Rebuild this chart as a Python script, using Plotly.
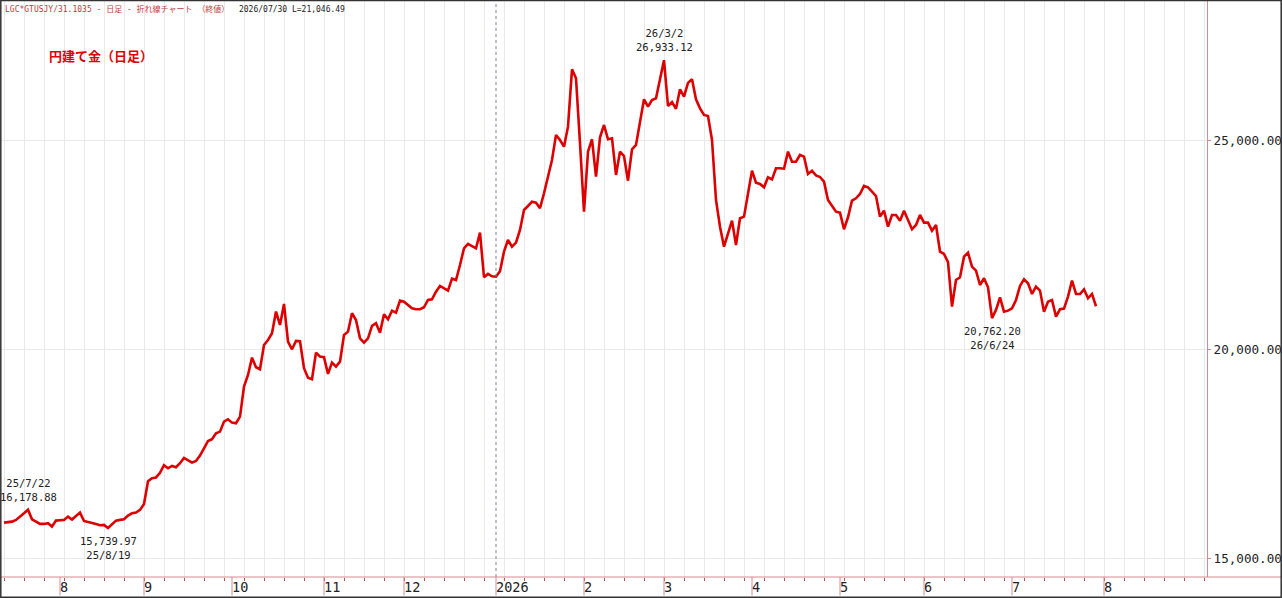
import pandas as pd
import plotly.graph_objects as go

# first data day and the last weekday that still gets a month tick
start_day = "2025-07-14"
axis_end_day = "2026-08-31"

# daily close (yen per gram), one value per weekday from start_day
close = [
    15870, 15879, 15894, 15935, 16006, 16094, 16178.88, 15950, 15894, 15839,
    15839, 15855, 15775, 15918, 15926, 15935, 16014, 15943, 16030, 16110,
    15910, 15886, 15879, 15839, 15807, 15815, 15739.97, 15839, 15918, 15935,
    15950, 16038, 16094, 16110, 16174, 16317, 16860, 16930, 16950, 17060,
    17242, 17170, 17226, 17194, 17290, 17417, 17370, 17306, 17346, 17473,
    17649, 17824, 17864, 18008, 18047, 18286, 18343, 18262, 18247, 18406,
    19123, 19403, 19817, 19586, 19539, 20120, 20240, 20400, 20918, 20599,
    21101, 20200, 20017, 20216, 20210, 19563, 19336, 19300, 19937, 19841,
    19826, 19427, 19697, 19601, 19721, 20360, 20439, 20878, 20718, 20280,
    20176, 20280, 20575, 20639, 20415, 20854, 20735, 20941, 20893, 21180,
    21156, 21077, 20998, 20974, 20974, 21022, 21197, 21213, 21395, 21532,
    21476, 21420, 21706, 21675, 22034, 22433, 22536, 22488, 22433, 22807,
    21740, 21819, 21762, 21755, 21886, 22352, 22632, 22472, 22568, 22871,
    23350, 23445, 23548, 23524, 23390, 23749, 24146, 24545, 25144, 25024,
    24864, 25342, 26715, 26500, 24944, 23309, 24745, 25041, 24146, 25088,
    25383, 25041, 25064, 24187, 24745, 24641, 24050, 24801, 24904, 25502,
    25997, 25820, 25981, 26021, 26459, 26933.12, 25837, 25930, 25770, 26237,
    26060, 26390, 26476, 25997, 25782, 25622, 25598, 25024, 23589, 22950,
    22472, 22792, 23094, 22512, 23151, 23190, 23787, 24290, 24003, 23971,
    23892, 24131, 24083, 24347, 24347, 24337, 24745, 24505, 24505, 24665,
    24625, 24211, 24286, 24175, 24138, 24027, 23589, 23445, 23309, 23285,
    22888, 23175, 23572, 23629, 23732, 23924, 23892, 23787, 23684, 23190,
    23333, 22950, 23230, 23230, 23094, 23333, 23110, 22888, 22991, 23230,
    23046, 23046, 22855, 22991, 22352, 22297, 22100, 21040, 21675, 21739,
    22233, 22328, 21994, 21898, 21555, 21716, 21500, 20762.20, 20958, 21261,
    20917, 20941, 20998, 21197, 21532, 21692, 21596, 21340, 21515, 21420,
    20917, 21156, 21197, 20798, 20974, 20990, 21277, 21660, 21340, 21340,
    21452, 21237, 21340, 21046.49,
]

y_ticks = [15000, 20000, 25000]

# highs get the date on top, lows get the value on top
note_days = ["2025-07-22", "2025-08-19", "2026-03-02", "2026-06-24"]
note_is_high = [True, False, True, False]

header_red = "LGC*GTUSJY/31.1035 - 日足 - 折れ線チャート （終値）"
header_dark = "2026/07/30 L=21,046.49"
title = "円建て金（日足）"

# weekday calendar -> one x slot per weekday
days = pd.bdate_range(start_day, axis_end_day)
xs = list(range(len(close)))

# month ticks on the first weekday of every month
month_idx = [i for i in range(1, len(days)) if days[i].month != days[i - 1].month]
month_txt = [str(days[i].year) if days[i].month == 1 else str(days[i].month) for i in month_idx]
year_idx = [i for i in month_idx if days[i].month == 1]

axis_pink = "#d68a8f"
mono = "DejaVu Sans Mono, Noto Sans CJK JP"

fig = go.Figure()
fig.add_trace(go.Scatter(
    x=xs, y=close, mode="lines",
    line=dict(color="#dc0000", width=2.6),
    hoverinfo="skip",
))

# price labels at the marked highs and lows
for d, high in zip(note_days, note_is_high):
    i = days.get_loc(pd.Timestamp(d))
    ts = days[i]
    date_txt = f"{ts.year % 100}/{ts.month}/{ts.day}"
    val_txt = f"{close[i]:,.2f}"
    fig.add_annotation(
        x=i, y=close[i], showarrow=False,
        text=(date_txt + "<br>" + val_txt) if high else (val_txt + "<br>" + date_txt),
        yanchor="bottom" if high else "top",
        yshift=5 if high else -5,
        font=dict(family=mono, size=10.5, color="#222222"),
    )

fig.add_annotation(
    xref="paper", yref="paper", x=0.001, y=0.998, xanchor="left", yanchor="top",
    showarrow=False,
    text=f'<span style="color:#c23a3a">{header_red}</span>  {header_dark}',
    font=dict(family=mono, size=8, color="#222222"),
)
fig.add_annotation(
    xref="paper", yref="paper", x=0.037, y=0.905, xanchor="left", yanchor="middle",
    showarrow=False, text=f"<b>{title}</b>",
    font=dict(family="Noto Sans CJK JP", size=13, color="#e00000"),
)

# dotted line at the start of the year
for i in year_idx:
    fig.add_shape(type="line", x0=i, x1=i, y0=0, y1=1, xref="x", yref="paper",
                  line=dict(color="#8080a0", width=1, dash="dot"))

# long month tick lines hanging below the axis
for i in month_idx:
    fig.add_shape(type="line", x0=i, x1=i, y0=0, y1=-0.032, xref="x", yref="paper",
                  line=dict(color=axis_pink, width=1))

# bottom axis line runs the full width
fig.add_shape(type="line", x0=-0.01, x1=1.07, y0=0, y1=0, xref="paper", yref="paper",
              line=dict(color=axis_pink, width=1.2))

# screenshot frame
fig.add_shape(type="rect", xref="paper", yref="paper",
              x0=-1.2 / 1205, x1=1279.2 / 1205, y0=-20.2 / 576, y1=1 + 0.5 / 576,
              line=dict(color="#333333", width=1.5))

fig.update_xaxes(
    range=[-0.5, -0.5 + 1205 / 4],
    tickvals=month_idx, ticktext=month_txt,
    ticks="", showgrid=False, showline=False, zeroline=False,
    ticklabelposition="outside right", automargin=False,
    tickfont=dict(family=mono, size=13.5, color="#222222"),
    minor=dict(tick0=0, dtick=5, ticks="outside", ticklen=3, tickcolor="#b85050",
               showgrid=True, gridcolor="#e9e9e9", gridwidth=1),
)
fig.update_yaxes(
    side="right", range=[14569, 28349],
    tickvals=y_ticks, tickformat=",.2f",
    ticks="outside", ticklen=3, tickcolor=axis_pink,
    showline=True, linecolor=axis_pink, linewidth=1.2,
    showgrid=True, gridcolor="#e9e9e9", zeroline=False, automargin=False,
    tickfont=dict(family=mono, size=12.6, color="#222222"),
)
fig.update_layout(
    width=1282, height=598,
    margin=dict(l=2, r=75, t=1, b=21),
    paper_bgcolor="white", plot_bgcolor="white",
    showlegend=False,
)

# drop the page's default body margin so the figure sits at the window corner
fig.write_html("out.html", config={"displayModeBar": False},
               post_script="document.body.style.margin='0';")
